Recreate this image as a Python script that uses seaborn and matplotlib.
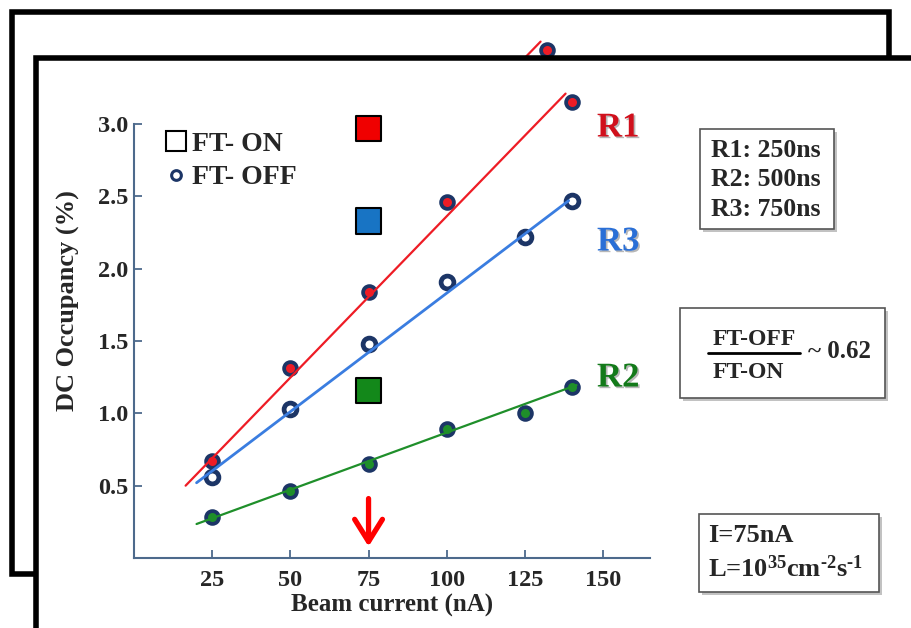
import numpy as np
import pandas as pd
import matplotlib
matplotlib.use("Agg")
import matplotlib.pyplot as plt
import matplotlib.patheffects as pe
from matplotlib.patches import Rectangle
from matplotlib.lines import Line2D
import seaborn as sns

# ==========================================
# DATA
# ==========================================

r1_current = [25, 50, 75, 100, 140]
r1_occ = [0.67, 1.31, 1.84, 2.46, 3.15]

r3_current = [25, 50, 75, 100, 125, 140]
r3_occ = [0.56, 1.03, 1.48, 1.91, 2.22, 2.47]

r2_current = [25, 50, 75, 100, 125, 140]
r2_occ = [0.28, 0.46, 0.65, 0.89, 1.00, 1.18]

# straight-line fits drawn on the slide (end points)
r1_fit_x = [16.5, 138]
r1_fit_y = [0.50, 3.21]
r3_fit_x = [20, 139]
r3_fit_y = [0.52, 2.47]
r2_fit_x = [20, 141.5]
r2_fit_y = [0.235, 1.195]

# FT-ON values at 75 nA (big squares)
on_current = [75, 75, 75]
on_occ = [2.97, 2.33, 1.16]
on_names = ["R1", "R3", "R2"]

x_ticks = [25, 50, 75, 100, 125, 150]
y_ticks = [0.5, 1.0, 1.5, 2.0, 2.5, 3.0]

red = "#ee1c25"
blue = "#3a7de0"
green = "#1f8f2a"
navy = "#1c3566"
sq_colors = {"R1": "#f00000", "R3": "#1874c4", "R2": "#13881a"}

# ==========================================
# STYLE
# ==========================================

sns.set_theme(style="white")
plt.rcParams["font.family"] = ["Liberation Serif", "DejaVu Serif"]
plt.rcParams["font.weight"] = "bold"
plt.rcParams["mathtext.fontset"] = "custom"
plt.rcParams["mathtext.rm"] = "Liberation Serif:bold"
plt.rcParams["mathtext.it"] = "Liberation Serif:bold"

W, H = 911, 628
fig = plt.figure(figsize=(W / 100, H / 100), dpi=100)
fig.patch.set_facecolor("white")


def fx(x):
    return x / W


def fy(y):
    return 1 - y / H


# axes box in pixels
ax_l, ax_r, ax_t, ax_b = 134, 650, 124, 558
ax_rect = [fx(ax_l), fy(ax_b), (ax_r - ax_l) / W, (ax_b - ax_t) / H]

# ==========================================
# BACK SLIDE (mostly hidden)
# ==========================================

fig.add_artist(Rectangle((fx(12), fy(574)), fx(877), (574 - 12) / H,
                         transform=fig.transFigure, facecolor="white",
                         edgecolor="black", linewidth=4, zorder=-3))

ax_back = fig.add_axes([fx(ax_l - 25), fy(ax_b - 52), ax_rect[2], ax_rect[3]])
ax_back.set_zorder(-2)
ax_back.patch.set_visible(False)
sns.lineplot(x=r1_fit_x, y=r1_fit_y, color=red, lw=1.6, ax=ax_back, clip_on=False)
sns.scatterplot(x=r1_current, y=r1_occ, color=red, edgecolor=navy, s=85,
                linewidth=2.7, ax=ax_back, clip_on=False, zorder=3)
ax_back.set_xlim(0, 165)
ax_back.set_ylim(0, 3.0)
ax_back.axis("off")

# front slide frame
fig.add_artist(Rectangle((fx(36), -0.1), 1.2, fy(58) + 0.1,
                         transform=fig.transFigure, facecolor="white",
                         edgecolor="black", linewidth=4, zorder=-1))

# ==========================================
# FRONT SLIDE CHART
# ==========================================

ax = fig.add_axes(ax_rect)
ax.patch.set_visible(False)

# FT-OFF points
sns.scatterplot(x=r1_current, y=r1_occ, color=red, edgecolor=navy, s=85,
                linewidth=2.7, ax=ax, clip_on=False, zorder=3)
sns.scatterplot(x=r3_current, y=r3_occ, color="white", edgecolor=navy, s=85,
                linewidth=3.4, ax=ax, clip_on=False, zorder=3)
sns.scatterplot(x=r2_current, y=r2_occ, color=green, edgecolor=navy, s=85,
                linewidth=2.7, ax=ax, clip_on=False, zorder=3)

# fits
sns.lineplot(x=r1_fit_x, y=r1_fit_y, color=red, lw=1.6, ax=ax, clip_on=False, zorder=4)
sns.lineplot(x=r3_fit_x, y=r3_fit_y, color=blue, lw=2.0, ax=ax, clip_on=False, zorder=4)
sns.lineplot(x=r2_fit_x, y=r2_fit_y, color=green, lw=1.6, ax=ax, clip_on=False, zorder=4)

# FT-ON squares
on_df = pd.DataFrame({"current": on_current, "occ": on_occ, "run": on_names})
sns.scatterplot(data=on_df, x="current", y="occ", hue="run", palette=sq_colors,
                marker="s", s=330, edgecolor="black", linewidth=1.5,
                legend=False, ax=ax, zorder=5, clip_on=False)

# arrow at 75 nA
ax.annotate("", xy=(75, 0.06), xytext=(75, 0.43),
            arrowprops=dict(arrowstyle="->,head_length=0.8,head_width=0.5",
                            mutation_scale=20, color="#ff0000", lw=3.8))

ax.set_xlim(0, 165)
ax.set_ylim(0, 3.0)
ax.set_xticks(x_ticks)
ax.set_yticks(y_ticks)
ax.set_yticklabels([f"{v:.1f}" for v in y_ticks])

spine_c = "#4d6a8c"
for s in ["top", "right"]:
    ax.spines[s].set_visible(False)
for s in ["left", "bottom"]:
    ax.spines[s].set_color(spine_c)
    ax.spines[s].set_linewidth(1.5)
ax.tick_params(direction="in", length=6, width=1.3, color=spine_c,
               labelsize=17.5)
ax.tick_params(axis="y", left=True, pad=4)
ax.tick_params(axis="x", bottom=True, pad=9)
for lab in ax.get_xticklabels() + ax.get_yticklabels():
    lab.set_fontweight("bold")

ax.set_xlabel("Beam current (nA)", fontsize=18, fontweight="bold", labelpad=2)
ax.set_ylabel("DC Occupancy (%)", fontsize=19, fontweight="bold")
ax.yaxis.set_label_coords(-0.105, 0.594)

# legend
handles = [
    Line2D([], [], marker="s", linestyle="none", markersize=15,
           markerfacecolor="white", markeredgecolor="black", markeredgewidth=1.5),
    Line2D([], [], marker="o", linestyle="none", markersize=7,
           markerfacecolor="white", markeredgecolor=navy, markeredgewidth=2.2),
]
ax.legend(handles, ["FT- ON", "FT- OFF"], loc="upper left",
          bbox_to_anchor=(0.012, 1.04), frameon=False, handlelength=0.8,
          handletextpad=0.15, labelspacing=0.28,
          prop={"family": "Liberation Serif", "weight": "bold", "size": 20})

# run labels
shadow = [pe.SimplePatchShadow(offset=(1.2, -1.2), shadow_rgbFace="#888888", alpha=0.6),
          pe.Normal()]
fig.text(fx(597), fy(128), "R1", color="#d0101c", fontsize=25, fontweight="bold",
         va="center", ha="left", path_effects=shadow)
fig.text(fx(597), fy(242), "R3", color="#2a6fd6", fontsize=25, fontweight="bold",
         va="center", ha="left", path_effects=shadow)
fig.text(fx(597), fy(378), "R2", color="#137a1a", fontsize=25, fontweight="bold",
         va="center", ha="left", path_effects=shadow)

# ==========================================
# SIDE BOXES
# ==========================================


def box(x0, y0, x1, y1):
    fig.add_artist(Rectangle((fx(x0 + 3), fy(y1 + 3)), (x1 - x0) / W, (y1 - y0) / H,
                             transform=fig.transFigure, facecolor="#9a9a9a",
                             edgecolor="none", alpha=0.6, zorder=1))
    fig.add_artist(Rectangle((fx(x0), fy(y1)), (x1 - x0) / W, (y1 - y0) / H,
                             transform=fig.transFigure, facecolor="white",
                             edgecolor="#555555", linewidth=1.2, zorder=2))


box(700, 129, 834, 229)
for i, t in enumerate(["R1: 250ns", "R2: 500ns", "R3: 750ns"]):
    fig.text(fx(711), fy(150 + 30 * i), t, fontsize=18.5, fontweight="bold",
             va="center", ha="left", zorder=3)

box(680, 308, 885, 398)
fig.text(fx(754), fy(339), "FT-OFF", fontsize=17, fontweight="bold",
         va="center", ha="center", zorder=3)
fig.add_artist(Line2D([fx(708), fx(800)], [fy(353), fy(353)], color="black",
                      lw=2, transform=fig.transFigure, zorder=3))
fig.text(fx(748), fy(373), "FT-ON", fontsize=17, fontweight="bold",
         va="center", ha="center", zorder=3)
fig.text(fx(808), fy(352), "~ 0.62", fontsize=18, fontweight="bold",
         va="center", ha="left", zorder=3)

box(699, 514, 879, 592)
fig.text(fx(708), fy(535), "I=75nA", fontsize=19, fontweight="bold",
         va="center", ha="left", zorder=3)
fig.text(fx(708), fy(569), r"L=10$^{35}$cm$^{\text{-}2}$s$^{\text{-}1}$", fontsize=19,
         fontweight="bold", va="center", ha="left", zorder=3)

plt.savefig("out.png", dpi=100)
